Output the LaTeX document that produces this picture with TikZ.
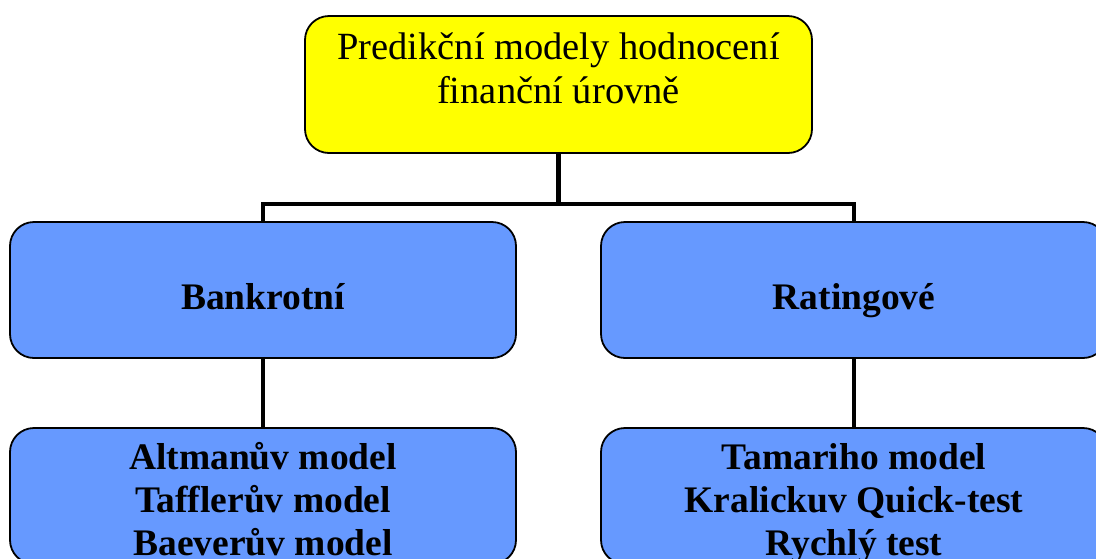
\documentclass[tikz,border=0pt]{standalone}
\usepackage{fontspec}
\setmainfont{Liberation Serif}
\definecolor{topyellow}{HTML}{FFFF00}
\definecolor{boxblue}{HTML}{6699FF}
\begin{document}
\begin{tikzpicture}[x=1pt,y=-1pt,
  box/.style={draw=black, line width=1.8pt, rounded corners=24pt, minimum width=506pt, minimum height=136pt, inner sep=0pt},
  conn/.style={draw=black, line width=4.5pt},
  toptext/.style={font=\fontsize{38.5}{44}\selectfont, align=center, anchor=base, inner sep=0pt},
  boldtext/.style={font=\fontsize{37.5}{43}\selectfont\bfseries, align=center, anchor=base, inner sep=0pt}]
\useasboundingbox (0,0) rectangle (1096,558);
\clip (0,0) rectangle (1096,558);
\coordinate (bus) at (558.5,204);
\node[box, fill=topyellow, minimum width=507pt, minimum height=137pt] (top) at (558.5,84.5) {};
\node[box, fill=boxblue] (bl) at (263,290) {};
\node[box, fill=boxblue] (br) at (854,290) {};
\node[box, fill=boxblue] (ll) at (263,496) {};
\node[box, fill=boxblue] (lr) at (854,496) {};
\draw[conn] (top.south) -- (bus);
\draw[conn] (bl.north) |- (bus) -| (br.north);
\draw[conn] (bl.south) -- (ll.north);
\draw[conn] (br.south) -- (lr.north);
% texts (base anchor = baseline of last line)
\node[toptext] (toptxt) at (558.5,103) {Predikční modely hodnocení\\finanční úrovně};
\node[boldtext] (bltxt) at (263,309) {Bankrotní};
\node[boldtext] (brtxt) at (854,309) {Ratingové};
\node[boldtext] (lltxt) at (263,555) {Altmanův model\\Tafflerův model\\Baeverův model};
\node[boldtext] (lrtxt) at (854,555) {Tamariho model\\Kralickuv Quick-test\\Rychlý test};
\end{tikzpicture}
\end{document}
